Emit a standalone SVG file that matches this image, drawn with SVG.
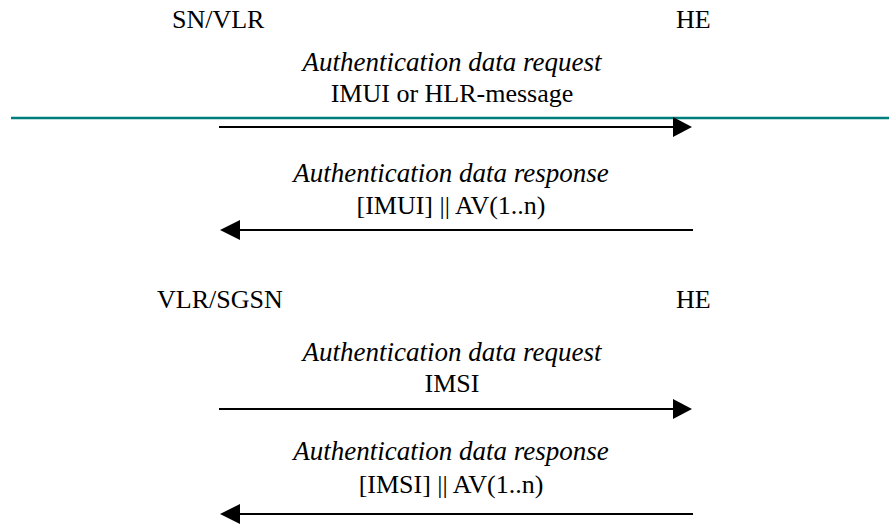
<svg xmlns="http://www.w3.org/2000/svg" width="889" height="525" viewBox="0 0 889 525">
<style>
text{font-family:"Liberation Serif","Times New Roman",serif;fill:#000}
.ent{font-size:26px}
.msg{font-size:27px;font-style:italic;text-anchor:middle}
.par{font-size:26px;text-anchor:middle}
.arr{stroke:#000;stroke-width:2;fill:none}
.head{fill:#000}
</style>
<rect width="889" height="525" fill="#fff"/>
<g id="sn-vlr"><text class="ent" x="172" y="28">SN/VLR</text></g>
<g id="he-1"><text class="ent" x="676" y="28">HE</text></g>
<g id="vlr-sgsn"><text class="ent" x="157" y="308">VLR/SGSN</text></g>
<g id="he-2"><text class="ent" x="676" y="308">HE</text></g>
<line x1="11" y1="118" x2="889" y2="118" stroke="#007f7f" stroke-width="2.5"/>
<g id="connectors">
  <g id="req1">
    <line class="arr" x1="219" y1="127" x2="676" y2="127"/>
    <polygon class="head" points="673,117 692,127 673,137"/>
    <text class="msg" x="452" y="71">Authentication data request</text>
    <text class="par" x="452" y="102">IMUI or HLR-message</text>
  </g>
  <g id="resp1">
    <line class="arr" x1="236" y1="230" x2="693" y2="230"/>
    <polygon class="head" points="240,220 220,230 240,240"/>
    <text class="msg" x="451" y="182">Authentication data response</text>
    <text class="par" x="451" y="214">[IMUI] || AV(1..n)</text>
  </g>
  <g id="req2">
    <line class="arr" x1="219" y1="409" x2="676" y2="409"/>
    <polygon class="head" points="673,399 692,409 673,419"/>
    <text class="msg" x="452" y="361">Authentication data request</text>
    <text class="par" x="452" y="392">IMSI</text>
  </g>
  <g id="resp2">
    <line class="arr" x1="236" y1="514" x2="693" y2="514"/>
    <polygon class="head" points="240,504 220,514 240,524"/>
    <text class="msg" x="451" y="460">Authentication data response</text>
    <text class="par" x="451" y="493">[IMSI] || AV(1..n)</text>
  </g>
</g>
</svg>
